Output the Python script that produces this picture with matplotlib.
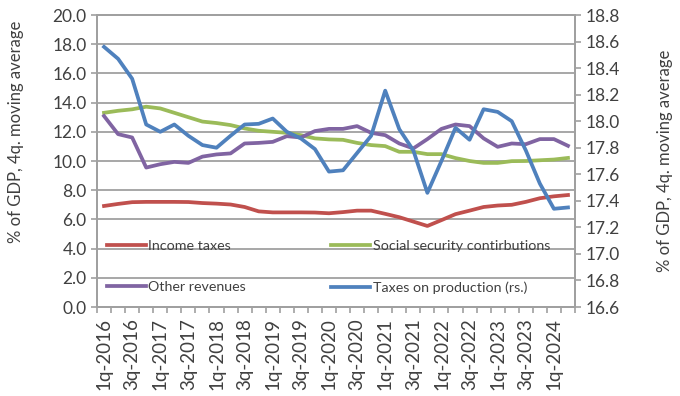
import matplotlib
matplotlib.use("Agg")
import matplotlib.pyplot as plt
import numpy as np
from matplotlib.ticker import FixedLocator, FormatStrFormatter

# quarters 1q-2016 .. 2q-2024
quarters = [f"{q}q-{y}" for y in range(2016, 2025) for q in range(1, 5)][:34]

income_taxes = [6.92, 7.06, 7.18, 7.20, 7.20, 7.20, 7.19, 7.12, 7.08, 7.02,
                6.85, 6.55, 6.48, 6.48, 6.48, 6.47, 6.42, 6.50, 6.60, 6.60,
                6.38, 6.15, 5.85, 5.55, 5.95, 6.36, 6.60, 6.85, 6.95, 7.00,
                7.20, 7.45, 7.58, 7.67]
social_security = [13.30, 13.44, 13.54, 13.72, 13.60, 13.30, 13.00, 12.70, 12.60, 12.46,
                   12.23, 12.07, 12.00, 11.93, 11.77, 11.55, 11.48, 11.45, 11.24, 11.09,
                   11.02, 10.63, 10.63, 10.47, 10.47, 10.20, 10.00, 9.87, 9.87, 9.99,
                   10.00, 10.05, 10.10, 10.21]
other_revenues = [13.08, 11.84, 11.61, 9.55, 9.78, 9.94, 9.87, 10.30, 10.45, 10.52,
                  11.20, 11.24, 11.31, 11.70, 11.61, 12.05, 12.20, 12.20, 12.39, 11.93,
                  11.77, 11.20, 10.86, 11.50, 12.20, 12.50, 12.39, 11.55, 10.97, 11.20,
                  11.15, 11.50, 11.50, 11.04]
taxes_production = [18.56, 18.47, 18.32, 17.975, 17.92, 17.975, 17.89, 17.82, 17.80, 17.89,
                     17.975, 17.98, 18.02, 17.92, 17.87, 17.79, 17.62, 17.63, 17.76, 17.89,
                     18.23, 17.94, 17.78, 17.46, 17.70, 17.95, 17.86, 18.09, 18.07, 18.00,
                     17.78, 17.53, 17.34, 17.35]

RED, GREEN, PURPLE, BLUE = "#C0504D", "#9BBB59", "#8064A2", "#4F81BD"
GRID = "#A0A0A0"
TXT = "#404040"
plt.rcParams["font.family"] = ["Lato", "DejaVu Sans"]

fig = plt.figure(figsize=(6.8, 3.96), dpi=100)
ax = fig.add_axes([97 / 680, 1 - 307 / 396, 478 / 680, 292 / 396])
ax2 = ax.twinx()

x = np.arange(len(quarters))
lw = 2.7
l1, = ax.plot(x, income_taxes, color=RED, lw=lw, label="Income taxes")
l2, = ax.plot(x, social_security, color=GREEN, lw=lw, label="Social security contirbutions")
l3, = ax.plot(x, other_revenues, color=PURPLE, lw=lw, label="Other revenues")
l4, = ax2.plot(x, taxes_production, color=BLUE, lw=lw, label="Taxes on production (rs.)")

ax.set_xlim(-0.5, len(quarters) - 0.5)
ax.set_ylim(0, 20)
ax2.set_ylim(16.6, 18.8)
ax.set_yticks(np.arange(0, 20.1, 2))
ax2.set_yticks(np.arange(16.6, 18.81, 0.2))
ax.yaxis.set_major_formatter(FormatStrFormatter("%.1f"))
ax2.yaxis.set_major_formatter(FormatStrFormatter("%.1f"))
ax.grid(axis="y", color=GRID, lw=1.3)
ax.set_axisbelow(True)

# category labels every 2nd quarter, tick marks between categories
ax.set_xticks(x[::2])
ax.set_xticklabels(quarters[::2], rotation=90)
ax.xaxis.set_minor_locator(FixedLocator(np.arange(-0.5, len(quarters), 1)))
ax.tick_params(axis="x", which="major", length=0, labelsize=13.5, pad=8, colors=TXT)
ax.tick_params(axis="x", which="minor", length=4, color=GRID, width=1.2)
ax.tick_params(axis="y", length=4, color=GRID, width=1.2, labelsize=12.5, labelcolor=TXT)
ax2.tick_params(axis="y", length=4, color=GRID, width=1.2, labelsize=12.5, labelcolor=TXT)

for a in (ax, ax2):
    for s in a.spines.values():
        s.set_color(GRID)
        s.set_linewidth(1.3)

ax.set_ylabel("% of GDP, 4q. moving average", fontsize=12, color=TXT)
ax.yaxis.set_label_coords(-0.153, 0.6)
ax2.set_ylabel("% of GDP, 4q. moving average", fontsize=12, color=TXT)
ax2.yaxis.set_label_coords(1.172, 0.5)

leg = ax.legend([l1, l3, l2, l4], [l.get_label() for l in (l1, l3, l2, l4)],
                ncol=2, frameon=False, loc="upper left", bbox_to_anchor=(0.0, 0.265),
                fontsize=10.3, handlelength=2.7, handletextpad=0.2, columnspacing=5.95,
                labelspacing=2.05, borderaxespad=0.3)
for t in leg.get_texts():
    t.set_color(TXT)

fig.savefig("out.png", dpi=100)
